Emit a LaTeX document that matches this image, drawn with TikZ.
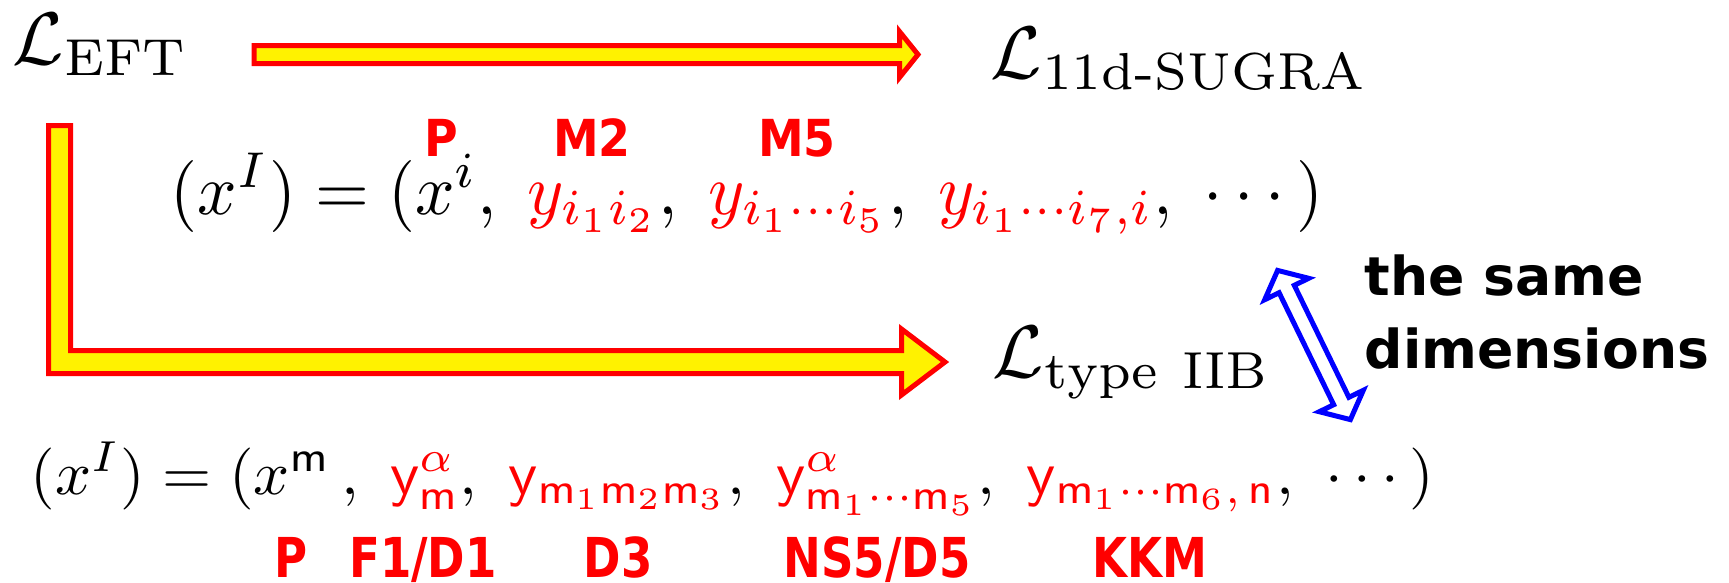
\documentclass[tikz,border=0pt]{standalone}
\usepackage{amsmath}
\usepackage{graphicx}
\usepackage{fontspec}
\newfontfamily\djs{DejaVu Sans}
\newcommand\rd[1]{{\color{red}#1}}
\tikzset{
  fatarrow/.style={draw=red, fill=yellow, line width=1.25pt, line join=miter},
  dblarrow/.style={draw=blue, fill=white, line width=1.25pt, line join=miter},
  lagr/.style={anchor=base west, inner sep=0pt},
  toplbl/.style={anchor=base, inner sep=0pt, text=red, font=\djs\bfseries\fontsize{12.75}{14}\selectfont},
  botlbl/.style={anchor=base, inner sep=0pt, text=red, font=\djs\bfseries\fontsize{13.75}{15}\selectfont},
  note/.style={anchor=base west, inner sep=0pt, font=\djs\bfseries\fontsize{13.4}{15}\selectfont},
}
\begin{document}
\begin{tikzpicture}[x=0.25pt,y=-0.25pt]
\useasboundingbox (0,0) rectangle (1729,582);
% Lagrangians
\node[lagr] (left) at (12,64) {\scalebox{1.86}{$\mathcal{L}_{\mathrm{EFT}}$}};
\node[lagr] (sugra) at (990,78) {\scalebox{1.86}{$\mathcal{L}_{\mathrm{11d\text{-}SUGRA}}$}};
\node[lagr] (iib) at (992,377) {\scalebox{1.86}{$\mathcal{L}_{\mathrm{type\ IIB}}$}};
% equations
\node[lagr] (eqA) at (170,214) {\scalebox{1.73}[1.8]{$(x^I) = (x^i,\; \rd{y_{i_1i_2}},\; \rd{y_{i_1\cdots i_5}},\; \rd{y_{i_1\cdots i_7,i}},\; \cdots)$}};
\node[lagr] (eqB) at (30,494) {\scalebox{1.58}[1.55]{$(x^I) = (x^{\mathsf m}\,,\ \rd{\mathsf y^{\alpha}_{\mathsf m}},\ \rd{\mathsf y_{\mathsf m_1\mathsf m_2\mathsf m_3}},\ \rd{\mathsf y^{\alpha}_{\mathsf m_1\cdots\mathsf m_5}},\ \rd{\mathsf y_{\mathsf m_1\cdots\mathsf m_6,\,\mathsf n}},\ \cdots)$}};
% labels top
\node[toplbl] (lP) at (441,156) {\scalebox{0.9}[1]{P}};
\node[toplbl] (lM2) at (592,156) {\scalebox{0.9}[1]{M2}};
\node[toplbl] (lM5) at (797,156) {\scalebox{0.9}[1]{M5}};
% labels bottom
\node[botlbl] (bP) at (291,577) {\scalebox{0.82}[1]{P}};
\node[botlbl] (bF) at (423,577) {\scalebox{0.82}[1]{F1/D1}};
\node[botlbl] (bD3) at (618,577) {\scalebox{0.82}[1]{D3}};
\node[botlbl] (bNS) at (877,577) {\scalebox{0.82}[1]{NS5/D5}};
\node[botlbl] (bK) at (1150,577) {\scalebox{0.82}[1]{KKM}};
% note
\node[note] (n1) at (1364,295) {the same};
\node[note] (n2) at (1364,368) {dimensions};
% top fat arrow
\coordinate (a1s) at (254,54.5);
\coordinate (a1t) at (918,54.5);
\draw[fatarrow] (254,45.5) -- (899.5,45.5) -- (899.5,31.5) -- (a1t) -- (899.5,77.5) -- (899.5,63.5) -- (254,63.5) -- cycle;
% L-shaped fat arrow
\coordinate (a2t) at (945,362);
\draw[fatarrow] (48.5,125.5) -- (70.5,125.5) -- (70.5,350.5) -- (901.5,350.5) -- (901.5,329) -- (a2t) -- (901.5,395) -- (901.5,373.5) -- (48.5,373.5) -- cycle;
% blue double arrow
\draw[dblarrow] (1350.4,419.6) -- (1363.3,390.3) -- (1348.9,397.3) -- (1294.3,285.3) -- (1308.7,278.3) -- (1277.6,270.4) -- (1264.7,299.7) -- (1279.1,292.7) -- (1333.7,404.7) -- (1319.3,411.7) -- cycle;
\end{tikzpicture}
\end{document}
